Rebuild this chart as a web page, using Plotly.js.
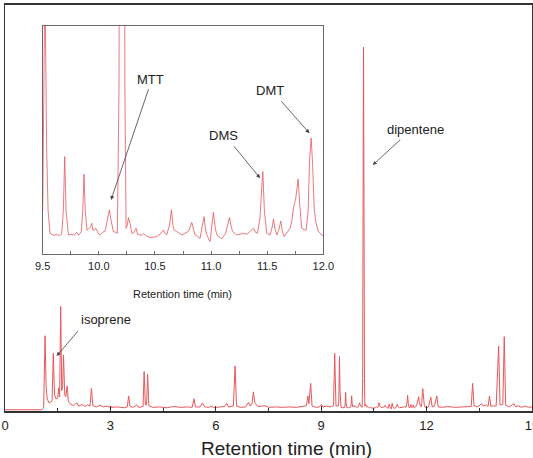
<!DOCTYPE html>
<html>
<head>
<meta charset="utf-8">
<script src="https://cdn.plot.ly/plotly-3.0.1.min.js"></script>
<style>
  html, body { margin: 0; padding: 0; background: #fff; }
  #chart { width: 533px; height: 458px; }
</style>
</head>
<body>
<div id="chart"></div>
<script>
// GC trace: retention time (min) and detector signal (a.u.)
const rt = [
  0.00, 1.05, 1.08, 1.10, 1.14, 1.17, 1.20, 1.25, 1.30, 1.34, 1.375, 1.41, 1.45,
  1.50, 1.53, 1.555, 1.585, 1.615, 1.64, 1.665, 1.70, 1.73, 1.77, 1.80, 1.85,
  1.95, 2.04, 2.10, 2.20, 2.28, 2.35, 2.42, 2.46, 2.50, 2.60, 2.70, 2.80, 2.90,
  3.00, 3.20, 3.40, 3.48, 3.52, 3.56, 3.65, 3.75, 3.80, 3.90, 3.93, 3.96, 3.995,
  4.03, 4.06, 4.095, 4.20, 4.40, 4.60, 4.80, 5.00, 5.20, 5.33, 5.38, 5.42, 5.55,
  5.62, 5.68, 5.80, 5.88, 5.95, 6.10, 6.25, 6.31, 6.36, 6.50, 6.55, 6.59, 6.70,
  6.85, 6.93, 6.98, 7.03, 7.07, 7.11, 7.20, 7.40, 7.50, 7.70, 7.90, 8.10, 8.30,
  8.50, 8.58, 8.62, 8.65, 8.70, 8.74, 8.85, 8.95, 9.01, 9.05, 9.15, 9.25, 9.35,
  9.385, 9.42, 9.48, 9.50, 9.51, 9.52, 9.535, 9.548, 9.565, 9.60, 9.625, 9.65,
  9.669, 9.684, 9.696, 9.708, 9.729, 9.76, 9.78, 9.803, 9.82, 9.845, 9.857, 9.868,
  9.879, 9.895, 9.907, 9.925, 9.937, 9.948, 9.958, 9.97, 9.981, 10.0, 10.011,
  10.035, 10.056, 10.075, 10.094, 10.11, 10.13, 10.15, 10.165, 10.18, 10.195,
  10.205, 10.215, 10.232, 10.243, 10.254, 10.264, 10.278, 10.295, 10.308, 10.332,
  10.345, 10.362, 10.38, 10.397, 10.43, 10.457, 10.49, 10.516, 10.545, 10.575,
  10.59, 10.605, 10.63, 10.647, 10.66, 10.671, 10.694, 10.715, 10.739, 10.769,
  10.80, 10.814, 10.828, 10.842, 10.858, 10.88, 10.902, 10.92, 10.938, 10.95,
  10.962, 10.991, 11.005, 11.021, 11.036, 11.051, 11.095, 11.13, 11.148, 11.164,
  11.18, 11.193, 11.229, 11.26, 11.288, 11.32, 11.348, 11.378, 11.395, 11.413,
  11.435, 11.461, 11.475, 11.496, 11.526, 11.545, 11.556, 11.57, 11.586, 11.605,
  11.621, 11.635, 11.651, 11.68, 11.704, 11.72, 11.734, 11.755, 11.776, 11.79,
  11.808, 11.83, 11.847, 11.865, 11.878, 11.892, 11.905, 11.92, 11.936, 11.955,
  11.972, 12.001, 12.05, 12.12, 12.16, 12.22, 12.29, 12.33, 12.45, 12.60, 12.80,
  13.00, 13.15, 13.27, 13.31, 13.35, 13.45, 13.57, 13.62, 13.70, 13.75, 13.79,
  13.83, 13.90, 13.98, 14.05, 14.09, 14.17, 14.21, 14.25, 14.35, 14.49, 14.53,
  14.60, 14.70, 14.80, 14.90, 15.00
];
const signal = [
  0.3, 0.3, 0.6, 1.0, 18.5, 6.0, 3.0, 2.0, 2.2, 2.5, 14.2, 4.0, 3.0,
  3.2, 5.7, 3.5, 25.7, 5.0, 6.0, 13.8, 4.0, 3.5, 6.2, 2.5, 1.8,
  1.3, 2.0, 1.2, 1.6, 1.1, 1.5, 1.2, 5.6, 1.3, 1.0, 1.4, 1.0, 1.2,
  0.9, 1.0, 0.8, 1.0, 3.7, 1.1, 0.9, 1.5, 0.9, 1.0, 1.1, 9.7, 1.5,
  1.5, 9.0, 1.3, 0.9, 1.0, 0.8, 1.1, 0.9, 1.0, 0.9, 3.0, 1.0, 1.0,
  2.0, 1.0, 0.9, 1.2, 0.8, 1.0, 1.1, 1.9, 1.0, 1.2, 11.1, 1.2, 0.9,
  1.0, 2.1, 1.2, 1.8, 4.7, 2.0, 1.1, 1.3, 0.9, 1.0, 0.9, 1.0, 0.9,
  1.1, 1.3, 3.7, 1.8, 6.8, 1.2, 0.9, 1.0, 1.6, 1.0, 1.2, 1.0, 1.3,
  14.2, 1.3, 1.2, 2.0, 8.0, 13.4, 5.0, 2.0, 0.9, 0.8, 0.85, 0.78,
  0.85, 2.0, 4.6, 2.0, 0.82, 0.85, 0.80, 0.95, 0.80, 1.0, 2.0, 3.75,
  2.0, 1.05, 1.10, 1.2, 1.38, 1.05, 1.05, 1.15, 1.06, 0.85, 0.82,
  0.95, 1.0, 1.5, 2.03, 1.5, 0.98, 0.95, 0.9, 8.0, 60.0,
  89.5, 60.0, 8.0, 1.14, 1.3, 1.65, 1.38, 0.9, 0.9, 1.14,
  0.85, 0.82, 0.8, 0.9, 0.75, 0.69, 0.72, 0.74, 0.85, 1.06,
  0.9, 0.82, 1.3, 2.03, 1.3, 1.06, 0.98, 0.9, 0.82, 0.9,
  1.0, 1.2, 1.43, 1.1, 0.82, 0.75, 0.66, 1.2, 1.70, 1.1,
  0.82, 0.5, 1.2, 1.91, 1.2, 0.82, 0.63, 0.9, 1.3, 1.66,
  1.2, 0.98, 0.82, 0.85, 0.9, 0.85, 0.98, 1.14, 0.95, 0.9,
  1.6, 3.88, 2.0, 0.9, 0.82, 1.2, 1.59, 1.1, 0.82, 1.1,
  1.49, 1.0, 0.74, 0.95, 1.14, 1.5, 2.14, 2.6, 3.52, 2.3,
  1.14, 1.06, 1.06, 2.0, 4.5, 5.49, 4.2, 2.0, 1.38, 1.0,
  0.9, 0.74, 1.0, 3.4, 1.0, 1.2, 3.7, 1.0, 0.9, 1.1, 0.9,
  1.0, 0.9, 1.1, 6.8, 1.3, 1.0, 1.8, 1.2, 1.5, 1.1, 3.7,
  1.1, 1.3, 1.2, 16.0, 1.5, 1.6, 18.3, 1.4, 1.0, 1.8, 1.0,
  1.3, 0.9, 1.2, 0.9, 1.0
];

// Axis ticks
const mainTicks = [0, 3, 6, 9, 12, 15];
const insetTicks = [9.5, 10.0, 10.5, 11.0, 11.5, 12.0];
const insetTickText = ['9.5', '10.0', '10.5', '11.0', '11.5', '12.0'];

// Labelled compounds
const mainLabels = ['isoprene', 'dipentene'];
const insetLabels = ['MTT', 'DMS', 'DMT'];
const axisTitle = 'Retention time (min)';

const W = 533, H = 458;
const px = x => x / W;
const py = y => 1 - y / H;

const FONT = 'Arial, "Liberation Sans", Helvetica, sans-serif';
const LINE = '#e8575c';
const FRAME = '#333333';
const INSET_FRAME = '#6a6a6a';

const traces = [
  { x: rt, y: signal, type: 'scatter', mode: 'lines', xaxis: 'x', yaxis: 'y',
    line: { color: LINE, width: 1 }, hoverinfo: 'skip' },
  { x: rt, y: signal, type: 'scatter', mode: 'lines', xaxis: 'x2', yaxis: 'y2',
    line: { color: LINE, width: 0.8 }, hoverinfo: 'skip', cliponaxis: true }
];

function textNote(text, x, y, size) {
  return { text: text, xref: 'paper', yref: 'paper', x: px(x), y: py(y),
           xanchor: 'center', yanchor: 'middle', showarrow: false,
           font: { family: FONT, size: size, color: '#222' } };
}
function arrowNote(xref, yref, x, y, ax, ay) {
  return { text: '', xref: xref, yref: yref, x: x, y: y, ax: ax, ay: ay,
           showarrow: true, arrowhead: 2, arrowsize: 1, arrowwidth: 0.8,
           arrowcolor: '#444', standoff: 0, startstandoff: 0 };
}

const annotations = [
  textNote(mainLabels[0], 105.5, 319, 13),
  arrowNote('x', 'y', 1.47, 13.5, 22.7, -26.7),
  textNote(mainLabels[1], 415, 129.3, 13),
  arrowNote('x', 'y', 10.467, 60.5, 29, -26.7),
  textNote(insetLabels[0], 150, 80, 13),
  arrowNote('x2', 'y2', 10.109, 2.51, 38, -112.3),
  textNote(insetLabels[1], 223.3, 135.7, 13),
  arrowNote('x2', 'y2', 11.437, 3.56, -27.3, -33.3),
  textNote(insetLabels[2], 270, 90, 13),
  arrowNote('x2', 'y2', 11.876, 5.73, -29.3, -33.3),
  textNote(axisTitle, 286, 448, 19),
  textNote(axisTitle, 182, 294, 11)
];

const layout = {
  width: W, height: H,
  margin: { l: 0, r: 0, t: 0, b: 0, pad: 0 },
  paper_bgcolor: '#fff', plot_bgcolor: '#fff',
  showlegend: false,
  font: { family: FONT, color: '#222' },
  xaxis: {
    domain: [px(5), px(532)], range: [0, 15], anchor: 'y',
    tickmode: 'array', tickvals: mainTicks, ticktext: mainTicks.map(String),
    ticks: 'inside', ticklen: 5, tickwidth: 1.2, tickcolor: FRAME,
    minor: { tickmode: 'linear', tick0: 0, dtick: 1.5, ticks: 'inside', ticklen: 3,
             tickwidth: 1, tickcolor: FRAME, showgrid: false },
    showline: true, linecolor: FRAME, linewidth: 1.5, mirror: true,
    showgrid: false, zeroline: false, ticklabeloverflow: 'allow',
    tickfont: { family: FONT, size: 13, color: '#222' }, ticklabelstandoff: 2
  },
  yaxis: {
    domain: [1 - 411 / H, 1 - 4.5 / H], range: [0, 100], anchor: 'x',
    showticklabels: false, ticks: '',
    showline: true, linecolor: FRAME, linewidth: 1.5, mirror: true,
    showgrid: false, zeroline: false
  },
  xaxis2: {
    domain: [px(42.7), px(323.3)], range: [9.5, 12.0], anchor: 'y2',
    tickmode: 'array', tickvals: insetTicks, ticktext: insetTickText,
    ticks: 'inside', ticklen: 3, tickwidth: 1, tickcolor: INSET_FRAME,
    minor: { tickmode: 'linear', tick0: 9.5, dtick: 0.25, ticks: 'inside', ticklen: 3,
             tickwidth: 1, tickcolor: INSET_FRAME, showgrid: false },
    showline: true, linecolor: INSET_FRAME, linewidth: 1, mirror: true,
    showgrid: false, zeroline: false, ticklabeloverflow: 'allow',
    tickfont: { family: FONT, size: 11, color: '#222' }, ticklabelstandoff: 2
  },
  yaxis2: {
    domain: [1 - 254 / H, 1 - 26 / H], range: [-0.1, 10.9], anchor: 'x2',
    showticklabels: false, ticks: '',
    showline: true, linecolor: INSET_FRAME, linewidth: 1, mirror: true,
    showgrid: false, zeroline: false
  },
  annotations: annotations
};

Plotly.newPlot('chart', traces, layout, { staticPlot: true, displayModeBar: false });
</script>
</body>
</html>
